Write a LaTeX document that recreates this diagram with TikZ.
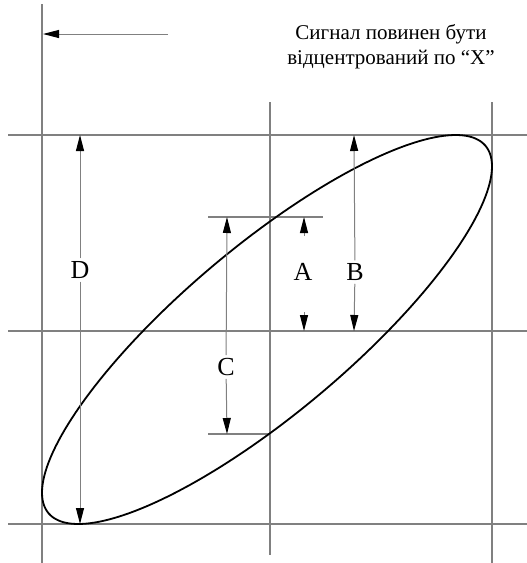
\documentclass[tikz,border=0pt]{standalone}
\usepackage{fontspec}
\setmainfont{Liberation Serif}
\usetikzlibrary{arrows.meta}
\definecolor{gridgray}{RGB}{128,128,128}
\tikzset{
  gridline/.style={draw=gridgray, line width=1.1pt},
  dimline/.style={draw=gridgray, line width=1pt},
  tipend/.style={-{Triangle[width=8pt,length=16pt,color=black]}},
  lbl/.style={fill=white, inner sep=3pt, font=\fontsize{26}{30}\selectfont},
  curve/.style={draw=black, line width=1.8pt, line join=round},
  note/.style={align=center, inner sep=0pt, font=\fontsize{21}{25}\selectfont}
}
\begin{document}
\begin{tikzpicture}[x=1pt,y=-1pt]
\useasboundingbox (0,0) rectangle (527,563);
% grid
\coordinate (Ltop) at (42,4);   \coordinate (Lbot) at (42,563);
\coordinate (Mtop) at (270,102); \coordinate (Mbot) at (270,555);
\coordinate (Rtop) at (492,102); \coordinate (Rbot) at (492,563);
\coordinate (HTl) at (8,135);  \coordinate (HTr) at (527,135);
\coordinate (HMl) at (8,331);  \coordinate (HMr) at (527,331);
\coordinate (HBl) at (8,524);  \coordinate (HBr) at (527,524);
\draw[gridline] (Ltop) -- (Lbot);
\draw[gridline] (Mtop) -- (Mbot);
\draw[gridline] (Rtop) -- (Rbot);
\draw[gridline] (HTl) -- (HTr);
\draw[gridline] (HMl) -- (HMr);
\draw[gridline] (HBl) -- (HBr);
% tick lines for C
\coordinate (T1l) at (208,217); \coordinate (T1r) at (323,217);
\coordinate (T2l) at (208,434); \coordinate (T2r) at (270,434);
\draw[gridline] (T1l) -- (T1r);
\draw[gridline] (T2l) -- (T2r);
% ellipse
\draw[curve] plot[domain=0:360, samples=181, variable=\t]
  ({267+225*cos(\t)}, {329.5-194.5*sin(\t+57)}) -- cycle;
% top arrow
\coordinate (arrS) at (168,34); \coordinate (arrE) at (43,34);
\draw[dimline,tipend] (arrS) -- (arrE);
% note
\node[note] (note) at (391,47) {Сигнал повинен бути\\відцентрований по “X”};
% D
\coordinate (Dtop) at (80,135); \coordinate (Dbot) at (80,524);
\node[lbl] (Dl) at (80,270) {D};
\draw[dimline,tipend] (Dl) -- (Dtop);
\draw[dimline,tipend] (Dl) -- (Dbot);
% B
\coordinate (Btop) at (354,135); \coordinate (Bbot) at (354,331);
\node[lbl] (Bl) at (355,272) {B};
\draw[dimline,tipend] (Bl) -- (Btop);
\draw[dimline,tipend] (Bl) -- (Bbot);
% C
\coordinate (Ctop) at (227,217); \coordinate (Cbot) at (227,434);
\node[lbl] (Cl) at (226,367) {C};
\draw[dimline,tipend] (Cl) -- (Ctop);
\draw[dimline,tipend] (Cl) -- (Cbot);
% A
\node[lbl] (Al) at (303,272) {A};
\coordinate (Ata) at (304,236); \coordinate (Ati) at (304,217);
\coordinate (Abta) at (304,312); \coordinate (Abti) at (304,331);
\draw[dimline,tipend] (Ata) -- (Ati);
\draw[dimline,tipend] (Abta) -- (Abti);
\end{tikzpicture}
\end{document}
